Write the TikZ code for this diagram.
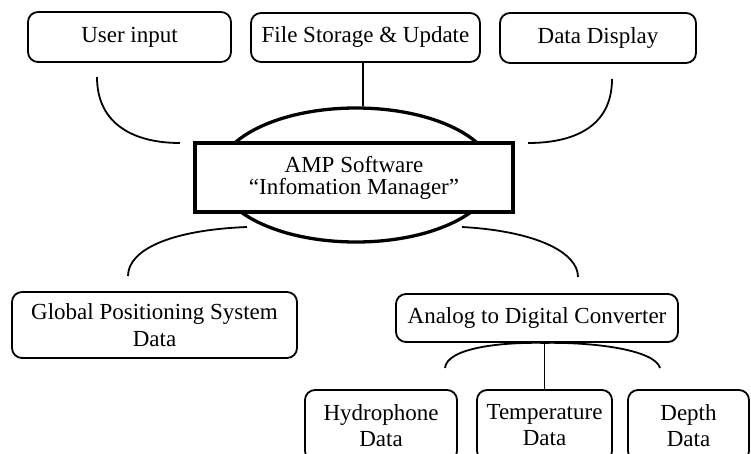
\documentclass[tikz,border=0pt]{standalone}
\usepackage{fontspec}
\setmainfont{Liberation Serif}
\usetikzlibrary{shapes.geometric}
\begin{document}
\begin{tikzpicture}[x=1pt,y=-1pt,
  box/.style={draw, rounded corners=10pt, line width=1.8pt, align=center,
    inner sep=0pt, font=\fontsize{23}{27}\selectfont},
  sensor/.style={box, minimum height=71pt, font=\fontsize{23}{26}\selectfont},
  link/.style={line width=1.8pt}]
\useasboundingbox (0,0) rectangle (751,453);

% top row
\node[box, minimum width=203pt, minimum height=50pt] (ui) at (129.5,37) {User input};
\node[box, minimum width=229pt, minimum height=49pt] (fs) at (365.5,37.5) {File Storage \& Update};
\node[box, minimum width=196pt, minimum height=50pt] (dd) at (598,38) {Data Display};

% central hub
\node[ellipse, draw, line width=3.3pt, minimum width=276pt, minimum height=134pt,
  inner sep=0pt] (ell) at (356,175) {};

% connectors to the hub
\coordinate (uiA) at (97,77);
\coordinate (uiB) at (180,143);
\draw[link] (uiA) .. controls (97,125) and (135,143) .. (uiB);
\draw[link] ([xshift=-2.5pt]fs.south) -- ([xshift=-2.5pt]fs.south |- ell.north);
\coordinate (ddA) at (612,79);
\coordinate (ddB) at (528,143);
\draw[link] (ddA) .. controls (612,128) and (572,143) .. (ddB);
\coordinate (gpsA) at (247,227);
\coordinate (gpsB) at (128,276);
\draw[link] (gpsA) .. controls (170,230) and (128,250) .. (gpsB);
\coordinate (adcA) at (462,227);
\coordinate (adcB) at (578,277);
\draw[link] (adcA) .. controls (535,231) and (578,252) .. (adcB);

\node[draw, fill=white, line width=3.5pt, minimum width=318pt, minimum height=69pt,
  align=center, inner sep=0pt, font=\fontsize{23}{22}\selectfont] (amp) at (354,177.5)
  {AMP Software\\“Infomation Manager”};

% lower row
\node[box, minimum width=285pt, minimum height=66pt] (gps) at (154.5,325)
  {Global Positioning System\\Data};
\node[box, minimum width=282pt, minimum height=48pt] (adc) at (537,318)
  {Analog to Digital Converter};

% sensor boxes, running past the lower edge
\node[sensor, minimum width=152pt] (hyd) at (381,425.5) {Hydrophone\\Data};
\node[sensor, minimum width=135pt] (tmp) at (544.5,425.5) {Temperature\\Data};
\node[sensor, minimum width=121pt] (dep) at (688.5,425.5) {Depth\\Data};

% converter fan-out
\coordinate (fanL) at (445,368);
\coordinate (fanR) at (660,368);
\draw[link] (fanL) .. controls (447,348) and (500,342) .. (tmp.north |- adc.south)
  .. controls (595,342) and (655,350) .. (fanR);
\draw[link] (tmp.north |- adc.south) -- (tmp.north);
\end{tikzpicture}
\end{document}
